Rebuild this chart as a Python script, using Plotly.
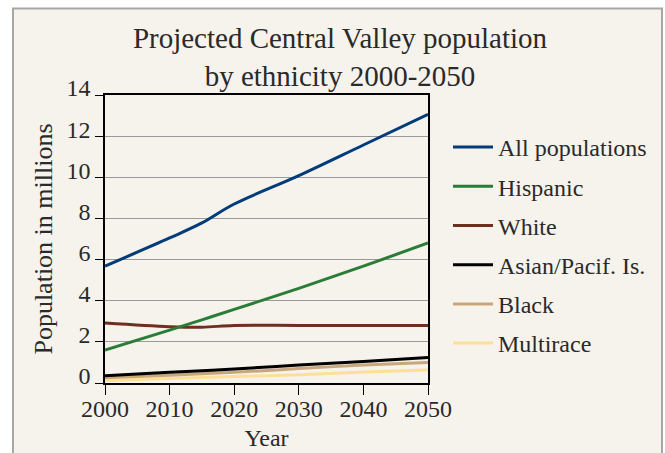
import plotly.graph_objects as go

years = [2000, 2010, 2015, 2020, 2030, 2040, 2050]
all_pop = [5.68, 7.05, 7.78, 8.7, 10.08, 11.57, 13.06]
hispanic = [1.6, 2.57, 3.07, 3.58, 4.6, 5.68, 6.81]
white = [2.92, 2.74, 2.71, 2.8, 2.8, 2.8, 2.8]
asian = [0.35, 0.52, 0.6, 0.68, 0.87, 1.05, 1.24]
black = [0.25, 0.38, 0.45, 0.52, 0.7, 0.87, 1.0]
multirace = [0.12, 0.22, 0.27, 0.31, 0.4, 0.53, 0.63]

names = ["All populations", "Hispanic", "White", "Asian/Pacif. Is.", "Black", "Multirace"]
series = [all_pop, hispanic, white, asian, black, multirace]
colors = ["#003c7a", "#2a7d36", "#6e2f1f", "#000000", "#c9a77a", "#fddf98"]

FONT = "Liberation Serif"
TXT = "#2a2a2a"
BG = "#f6f2ec"

fig = go.Figure()
# draw order: smaller series first so black/Asian sit on top
for i in [5, 4, 3, 2, 1, 0]:
    fig.add_trace(go.Scatter(
        x=years, y=series[i], name=names[i], mode="lines",
        line=dict(color=colors[i], width=3, shape="spline", smoothing=1.0),
        legendgroup=names[i], legendrank=i + 1,
    ))

L, R, T, B = 105, 428, 95, 383
W, H = 665, 453
pw, ph = R - L, B - T

def px(x):
    return (x - L) / pw

def py(y):
    return (B - y) / ph

fig.add_shape(type="rect", xref="paper", yref="paper",
              x0=px(13), x1=px(662), y0=py(470), y1=py(8.5),
              fillcolor=BG, line=dict(color="#a9a7a4", width=2), layer="below")

fig.update_layout(
    width=W, height=H,
    margin=dict(l=L, r=W - R, t=T, b=H - B, autoexpand=False),
    paper_bgcolor="white", plot_bgcolor=BG,
    font=dict(family=FONT, size=24, color=TXT),
    title=dict(text="Projected Central Valley population<br>by ethnicity 2000-2050",
               xref="paper", x=px(340), xanchor="center",
               yref="container", y=1 - 48 / H, yanchor="middle",
               font=dict(family=FONT, size=29, color=TXT)),
    showlegend=True,
    legend=dict(x=px(448), xanchor="left", y=py(125), yanchor="top",
                bgcolor="rgba(0,0,0,0)", font=dict(family=FONT, size=24, color=TXT),
                tracegroupgap=5, itemwidth=40, traceorder="grouped"),
    xaxis=dict(range=[2000, 2050], tickvals=[2000, 2010, 2020, 2030, 2040, 2050],
               showgrid=False, showline=True, linecolor="black", linewidth=1.5,
               mirror=True, ticks="outside", ticklen=10, tickcolor="black",
               tickfont=dict(size=24), zeroline=False, ticklabelstandoff=-7,
               title=dict(text="Year", standoff=9, font=dict(size=24))),
    yaxis=dict(range=[0, 14], dtick=2, showgrid=True, gridcolor="#9a9a9a", gridwidth=1,
               showline=True, linecolor="black", linewidth=1.5, mirror=True,
               ticks="outside", ticklen=8, tickcolor="black", zeroline=False,
               tickfont=dict(size=24), ticklabelshift=-7,
               title=dict(text="Population in millions", standoff=6, font=dict(size=26))),
)

fig.write_html("out.html", config={"displayModeBar": False},
               post_script="document.body.style.margin='0';")
